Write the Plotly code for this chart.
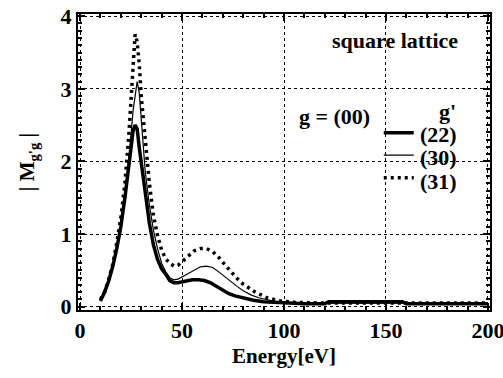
import plotly.graph_objects as go

# (22) thick solid
e22 = [10, 12, 14, 16, 18, 20, 22, 24, 26, 27, 28, 29, 30, 32, 34, 36, 38, 40, 42, 44, 46, 48, 50, 52, 55, 58, 61, 64, 67, 70, 73, 76, 80, 85, 90, 95, 100, 110, 120, 122, 130, 140, 150, 158, 160, 180, 200]
m22 = [0.08, 0.2, 0.35, 0.55, 0.8, 1.1, 1.5, 1.95, 2.42, 2.5, 2.45, 2.2, 2.0, 1.55, 1.15, 0.85, 0.65, 0.52, 0.45, 0.36, 0.33, 0.33, 0.34, 0.36, 0.37, 0.37, 0.36, 0.33, 0.28, 0.23, 0.18, 0.15, 0.12, 0.09, 0.07, 0.06, 0.05, 0.04, 0.04, 0.07, 0.07, 0.07, 0.07, 0.07, 0.04, 0.04, 0.04]

# (30) thin solid
e30 = [10, 12, 14, 16, 18, 20, 22, 24, 26, 28, 29, 30, 32, 34, 36, 38, 40, 42, 44, 46, 48, 50, 53, 56, 59, 62, 65, 68, 71, 74, 77, 80, 84, 88, 92, 96, 100, 120, 150, 200]
m30 = [0.08, 0.2, 0.35, 0.55, 0.82, 1.12, 1.55, 2.05, 2.7, 3.1, 2.95, 2.55, 1.85, 1.4, 1.05, 0.8, 0.6, 0.48, 0.4, 0.37, 0.38, 0.41, 0.46, 0.51, 0.55, 0.56, 0.54, 0.48, 0.41, 0.34, 0.28, 0.22, 0.16, 0.12, 0.09, 0.07, 0.06, 0.05, 0.05, 0.05]

# (31) dotted
e31 = [10, 12, 14, 16, 18, 20, 22, 24, 26, 27, 28, 29, 30, 32, 34, 36, 38, 40, 42, 44, 46, 48, 50, 53, 56, 59, 62, 65, 68, 71, 74, 77, 80, 83, 86, 89, 92, 95, 98, 102, 105, 120, 150, 200]
m31 = [0.1, 0.2, 0.37, 0.58, 0.88, 1.22, 1.7, 2.4, 3.3, 3.75, 3.65, 3.35, 2.9, 2.3, 1.7, 1.25, 0.98, 0.78, 0.66, 0.6, 0.56, 0.57, 0.62, 0.7, 0.77, 0.8, 0.8, 0.76, 0.68, 0.58, 0.48, 0.39, 0.31, 0.25, 0.2, 0.16, 0.12, 0.1, 0.08, 0.07, 0.06, 0.05, 0.05, 0.05]

series_labels = ["(22)", "(30)", "(31)"]
x_ticks = [0, 50, 100, 150, 200]
y_ticks = [0, 1, 2, 3, 4]

FONT = "Liberation Serif"

fig = go.Figure()
fig.add_trace(go.Scatter(x=e22, y=m22, mode="lines", name=" ",
                         line=dict(color="black", width=3.5)))
fig.add_trace(go.Scatter(x=e30, y=m30, mode="lines", name=" ",
                         line=dict(color="black", width=1.2)))
fig.add_trace(go.Scatter(x=e31, y=m31, mode="lines", name=" ",
                         line=dict(color="black", width=3.5, dash="3px,4px")))

axis_common = dict(
    showline=True, linecolor="black", linewidth=2, mirror="allticks",
    ticks="inside", ticklen=7, tickwidth=2, tickcolor="black",
    showgrid=True, gridcolor="black", gridwidth=1, griddash="dot",
    zeroline=False, ticklabeloverflow="allow", automargin=False,
    tickfont=dict(family=FONT, size=22, color="black", weight="bold"),
)

fig.update_xaxes(range=[-1, 201], tickvals=x_ticks, ticktext=[str(v) for v in x_ticks],
                 minor=dict(dtick=10, ticks="inside", ticklen=4, tickcolor="black", tickwidth=1.5, showgrid=False),
                 title=dict(text="Energy[eV]", font=dict(family=FONT, size=21, color="black", weight="bold"), standoff=6),
                 **axis_common)
fig.update_yaxes(range=[-0.045, 4.03], tickvals=y_ticks, ticktext=[str(v) for v in y_ticks],
                 minor=dict(dtick=0.1, ticks="inside", ticklen=4, tickcolor="black", tickwidth=1.5, showgrid=False),
                 title=dict(text="| M<sub>g'g</sub> |", font=dict(family=FONT, size=21, color="black", weight="bold"), standoff=20),
                 **axis_common)

TXT = dict(family=FONT, size=22, color="black", weight="bold")
fig.add_annotation(text="square lattice", xref="paper", yref="paper", x=0.927, y=0.91,
                   xanchor="right", yanchor="middle", showarrow=False, font=TXT)
fig.add_annotation(text="g = (00)", xref="paper", yref="paper", x=0.532, y=0.654,
                   xanchor="left", yanchor="middle", showarrow=False, font=TXT)
fig.add_annotation(text="g'", xref="paper", yref="paper", x=0.896, y=0.67,
                   xanchor="center", yanchor="middle", showarrow=False, font=TXT)
for lab, yy in zip(series_labels, [0.593, 0.515, 0.434]):
    fig.add_annotation(text=lab, xref="paper", yref="paper", x=0.825, y=yy,
                       xanchor="left", yanchor="middle", showarrow=False, font=TXT)

fig.update_layout(
    width=503, height=378,
    font=dict(family=FONT, color="black"),
    margin=dict(l=78, r=13, t=14, b=68, autoexpand=False),
    plot_bgcolor="white", paper_bgcolor="white",
    showlegend=True,
    legend=dict(x=0.73, y=0.654, xanchor="left", yanchor="top",
                bgcolor="rgba(0,0,0,0)", itemwidth=30, tracegroupgap=0,
                font=dict(family=FONT, size=15, color="black", weight="bold")),
)

fig.write_html("out.html")
